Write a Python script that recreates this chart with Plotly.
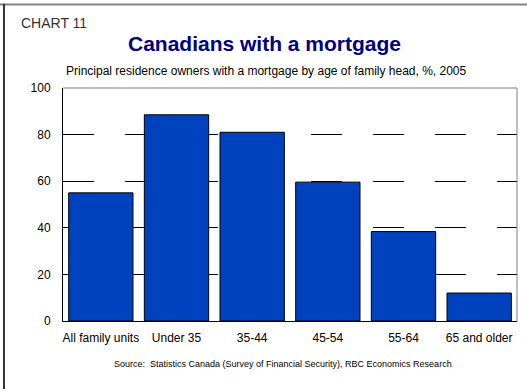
import plotly.graph_objects as go

categories = ["All family units", "Under 35", "35-44", "45-54", "55-64", "65 and older"]
share_with_mortgage = [55, 88.5, 81, 59.6, 38.4, 12]

FONT = "Liberation Sans, Arial, sans-serif"

fig = go.Figure(
    go.Bar(
        x=categories,
        y=share_with_mortgage,
        marker=dict(color="#0041BE", line=dict(color="#000000", width=1)),
        hoverinfo="x+y",
    )
)

fig.update_layout(
    width=527,
    height=389,
    margin=dict(l=63, r=10, t=88, b=68),
    paper_bgcolor="white",
    plot_bgcolor="white",
    bargap=0.15,
    showlegend=False,
    font=dict(family=FONT, color="#000000", size=12),
)

fig.update_xaxes(
    showline=True,
    linecolor="#000000",
    linewidth=1,
    ticks="",
    ticklabelstandoff=6,
    tickfont=dict(size=12, family=FONT),
    showgrid=False,
)
fig.update_yaxes(
    range=[0, 100],
    tickvals=[0, 20, 40, 60, 80, 100],
    showline=True,
    linecolor="#000000",
    linewidth=1,
    ticks="",
    ticklabelstandoff=9,
    tickfont=dict(size=12, family=FONT),
    showgrid=True,
    gridcolor="#000000",
    gridwidth=1,
    griddash="31px,31px",
    zeroline=False,
    layer="below traces",
)

# plot frame: gray top and right edges
fig.add_shape(type="line", xref="paper", yref="paper", x0=0, x1=1, y0=1, y1=1,
              line=dict(color="#808080", width=1), layer="below")
fig.add_shape(type="line", xref="paper", yref="paper", x0=1, x1=1, y0=0, y1=1,
              line=dict(color="#808080", width=1), layer="above")

# outer panel border (top and left)
fig.add_shape(type="line", xref="paper", yref="paper", x0=-0.139, x1=1.03, y0=1.358, y1=1.358,
              line=dict(color="#808080", width=2))
fig.add_shape(type="line", xref="paper", yref="paper", x0=-0.130, x1=-0.130, y0=-0.30, y1=1.362,
              line=dict(color="#333333", width=2))

fig.add_annotation(text="CHART 11", xref="paper", yref="paper", x=-0.096, y=1.277,
                   xanchor="left", yanchor="middle", showarrow=False,
                   font=dict(size=14, family=FONT, color="#333333"))
fig.add_annotation(text="<b>Canadians with a mortgage</b>", xref="paper", yref="paper",
                   x=0.443, y=1.192, xanchor="center", yanchor="middle", showarrow=False,
                   font=dict(size=21, family=FONT, color="#000080"))
fig.add_annotation(text="Principal residence owners with a mortgage by age of family head, %, 2005",
                   xref="paper", yref="paper", x=0.449, y=1.075, xanchor="center",
                   yanchor="middle", showarrow=False, font=dict(size=12, family=FONT))
fig.add_annotation(text="Source:  Statistics Canada (Survey of Financial Security), RBC Economics Research",
                   xref="paper", yref="paper", x=0.485, y=-0.185, xanchor="center",
                   yanchor="middle", showarrow=False, font=dict(size=9, family=FONT))

fig.write_html("out.html")
